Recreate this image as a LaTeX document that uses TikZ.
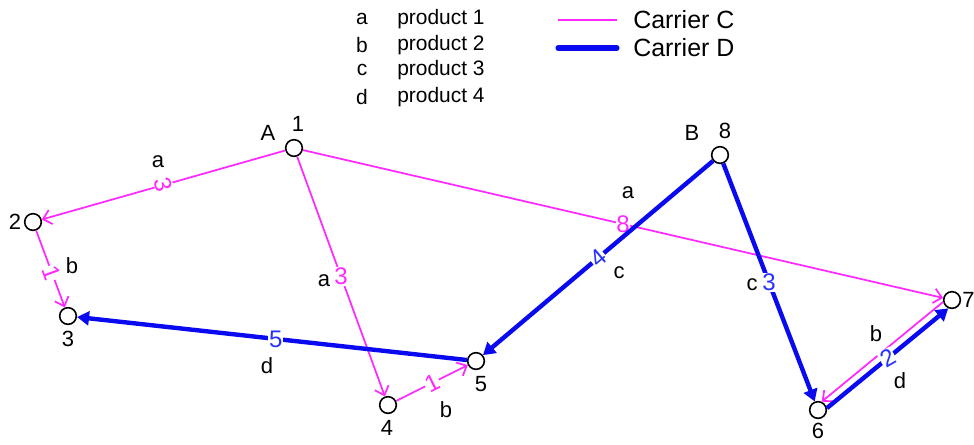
\documentclass[tikz,border=0pt]{standalone}
\usepackage{fontspec}
\setmainfont{Liberation Sans}
\usetikzlibrary{arrows.meta}
\definecolor{cmag}{RGB}{255,40,255}
\definecolor{cblue}{RGB}{10,10,240}
\definecolor{cbluet}{RGB}{40,50,255}
\begin{document}
\begin{tikzpicture}[x=0.75pt,y=-0.75pt,
  pt/.style={circle,draw=black,line width=1.2pt,fill=white,minimum size=12.5pt,inner sep=0pt},
  magline/.style={draw=cmag,line width=1.3pt,-{Straight Barb[length=6pt,width=11pt,line width=1.3pt]}},
  blueline/.style={draw=cblue,line width=3.3pt,-{Triangle[length=9pt,width=10.5pt]}},
  numm/.style={fill=white,inner sep=0.6pt,text=cmag,font=\fontsize{18}{18}\selectfont},
  numb/.style={fill=white,inner sep=0.6pt,text=cbluet,font=\fontsize{18}{18}\selectfont},
  lab/.style={inner sep=0pt,font=\fontsize{16.5}{16.5}\selectfont},
  leg/.style={inner sep=0pt,font=\fontsize{15.7}{15.7}\selectfont},
  legc/.style={inner sep=0pt,font=\fontsize{18.7}{18.7}\selectfont}
]
\useasboundingbox (0,0) rectangle (974,444);

% legend
\node[leg] (la) at (362,19) {a};
\node[leg,anchor=west] (lpa) at (397,19) {product 1};
\node[leg] (lb) at (362,45) {b};
\node[leg,anchor=west] (lpb) at (397,45) {product 2};
\node[leg] (lc) at (362,70) {c};
\node[leg,anchor=west] (lpc) at (397,70) {product 3};
\node[leg] (ld) at (362,97) {d};
\node[leg,anchor=west] (lpd) at (397,97) {product 4};
\coordinate (mc1) at (558,20);
\coordinate (mc2) at (617,20);
\coordinate (bc1) at (558,48);
\coordinate (bc2) at (617,48);
\draw[cmag,line width=1.3pt] (mc1) -- (mc2);
\draw[cblue,line width=3.8pt,line cap=round] (bc1) -- (bc2);
\node[legc,anchor=west] (lcc) at (633,20) {Carrier C};
\node[legc,anchor=west] (lcd) at (633,48) {Carrier D};

% nodes
\node[pt] (n1) at (294,148) {};
\node[pt] (n2) at (33,222) {};
\node[pt] (n3) at (68,316) {};
\node[pt] (n4) at (388,405) {};
\node[pt] (n5) at (476,361) {};
\node[pt] (n6) at (818,410) {};
\node[pt] (n7) at (952,300) {};
\node[pt] (n8) at (720,155) {};

% node labels
\node[lab] (tA) at (268,133) {A};
\node[lab] (t1) at (298,124) {1};
\node[lab] (tB) at (692,133) {B};
\node[lab] (t8) at (725,131) {8};
\node[lab] (t2) at (15,222) {2};
\node[lab] (t3) at (68,339) {3};
\node[lab] (t4) at (387,428) {4};
\node[lab] (t5) at (481,384) {5};
\node[lab] (t6) at (818,431) {6};
\node[lab,anchor=west] (t7) at (962,300) {7};

% carrier C (magenta)
\draw[magline] (n1) -- node[numm,pos=0.5,rotate=-74] {3} (n2);
\draw[magline] (n2) -- node[numm,pos=0.55,rotate=-70] {1} (n3);
\draw[magline] (n1) -- node[numm,pos=0.5] {3} (n4);
\draw[magline] (n4) -- node[numm,pos=0.5,rotate=27] {1} (n5);
\draw[magline] (n1) -- node[numm,pos=0.5] {8} (n7);
\draw[magline] (n7.192) -- (n6.66);

% carrier D (blue)
\draw[blueline] (n5) -- node[numb,pos=0.49] {5} (n3);
\draw[blueline] (n8) -- node[numb,pos=0.5,rotate=40] {4} (n5);
\draw[blueline] (n8) -- node[numb,pos=0.5] {3} (n6);
\draw[blueline] (n6.12) -- node[numb,pos=0.5,rotate=30] {2} (n7.246);

% product letters on edges
\node[lab] (e12) at (158,162) {a};
\node[lab] (e23) at (72,266) {b};
\node[lab] (e14) at (324,281) {a};
\node[lab] (e45) at (446,410) {b};
\node[lab] (e17) at (628,193) {a};
\node[lab] (e53) at (267,366) {d};
\node[lab] (e85) at (619,273) {c};
\node[lab] (e86) at (752,285) {c};
\node[lab] (e76) at (876,334) {b};
\node[lab] (e67) at (900,381) {d};
\end{tikzpicture}
\end{document}
